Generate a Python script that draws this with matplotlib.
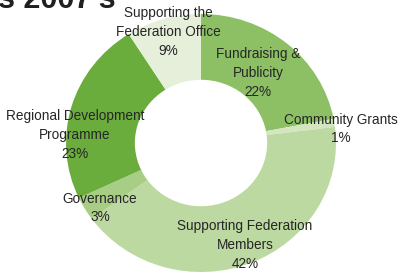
import matplotlib
matplotlib.use("Agg")
import matplotlib.pyplot as plt

labels = ["Fundraising &\nPublicity", "Community Grants", "Supporting Federation\nMembers",
          "Governance", "Regional Development\nProgramme", "Supporting the\nFederation Office"]
values = [22, 1, 42, 3, 23, 9]
colors = ["#8dc065", "#d3e6c0", "#bcd9a1", "#a8ce86", "#6aad3d", "#e5efd9"]

plt.rcParams['font.family'] = ['Liberation Sans', 'DejaVu Sans']

fig = plt.figure(figsize=(4.05, 2.78), dpi=100)
W, H = 405, 278
cx, cy, rx, ry = 201, 143, 135, 129
ax = fig.add_axes([(cx - rx) / W, 1 - (cy + ry) / H, 2 * rx / W, 2 * ry / H])
ax.pie(values, colors=colors, startangle=90, counterclock=False,
       wedgeprops=dict(width=0.51, edgecolor='none'))
ax.set_aspect('auto')
ax.set_xlim(-1, 1)
ax.set_ylim(-1, 1)
ax.axis('off')

# label positions in pixel coords
pos = [(168, 32), (258, 73), (341, 129), (245, 245), (100, 208), (75, 135)]
order = [5, 0, 1, 2, 3, 4]
for i, (px, py) in zip(order, pos):
    fig.text(px / W, 1 - py / H, f"{labels[i]}\n{values[i]}%", ha='center', va='center',
             fontsize=9.8, color='#262626', linespacing=1.45)

fig.text(-2 / W, 1 - 8 / H, "s 2007's", ha='left', va='baseline', fontsize=22,
         fontweight='bold', color='#231f20')

fig.savefig("out.png", dpi=100)
